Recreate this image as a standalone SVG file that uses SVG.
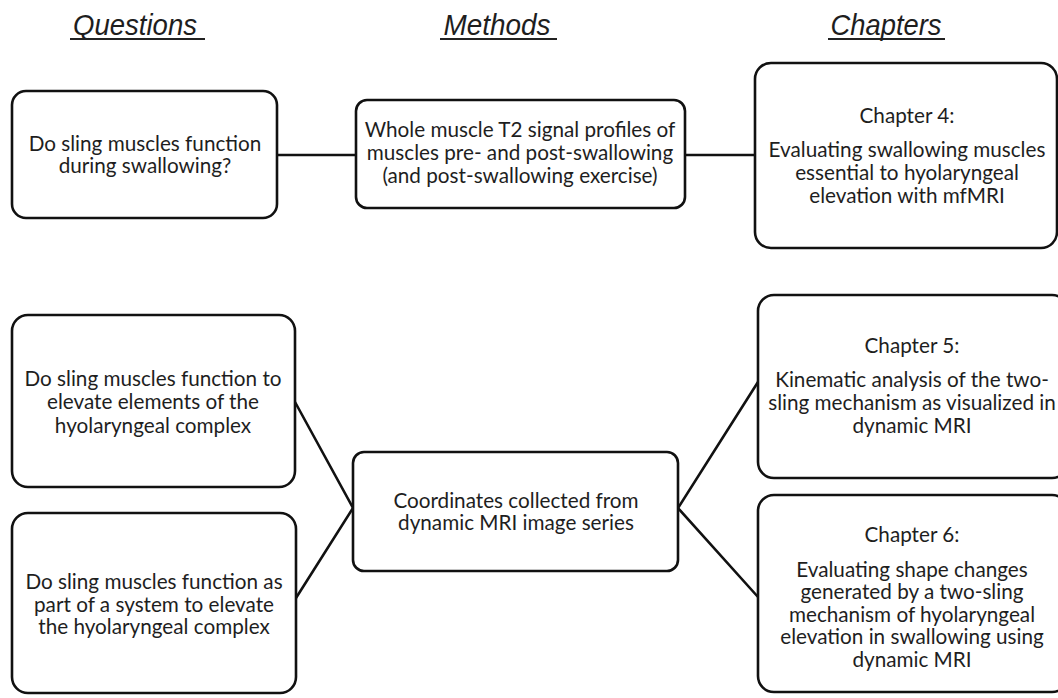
<svg xmlns="http://www.w3.org/2000/svg" width="1058" height="698" viewBox="0 0 1058 698">
<style>
.box{fill:#fff;stroke:#111;stroke-width:2.6}
.t{font-family:Lato,"Open Sans",sans-serif;font-size:20.7px;fill:#1e1e1e;text-anchor:middle}
.h{font-family:"Liberation Sans",Arial,sans-serif;font-style:italic;font-size:29px;fill:#1e1e1e;text-anchor:middle}
.ul{stroke:#222;stroke-width:2}
.c{stroke:#111;stroke-width:2.6;fill:none}
</style>
<rect width="1058" height="698" fill="#fff"/>
<g id="headers">
<text class="h" x="135" y="35" textLength="124" lengthAdjust="spacingAndGlyphs">Questions</text>
<line class="ul" x1="70" y1="39" x2="205" y2="39"/>
<text class="h" x="497" y="35" textLength="107" lengthAdjust="spacingAndGlyphs">Methods</text>
<line class="ul" x1="440" y1="39" x2="557" y2="39"/>
<text class="h" x="886" y="35" textLength="111" lengthAdjust="spacingAndGlyphs">Chapters</text>
<line class="ul" x1="828" y1="39" x2="945" y2="39"/>
</g>
<g id="connectors">
<line class="c" x1="277" y1="155" x2="356" y2="155"/>
<line class="c" x1="685" y1="155" x2="755" y2="155"/>
<polyline class="c" points="295,402 353,508 296,598"/>
<polyline class="c" points="758,382 678,508 758,597"/>
</g>
<g id="q1">
<rect class="box" x="12" y="91" width="265" height="127" rx="14"/>
<text class="t" x="145" y="151">Do sling muscles function</text>
<text class="t" x="145" y="173">during swallowing?</text>
</g>
<g id="m1">
<rect class="box" x="356" y="100" width="329" height="108" rx="11"/>
<text class="t" x="520" y="137">Whole muscle T2 signal profiles of</text>
<text class="t" x="520" y="160">muscles pre- and post-swallowing</text>
<text class="t" x="520" y="183">(and post-swallowing exercise)</text>
</g>
<g id="c4">
<rect class="box" x="755" y="63" width="302" height="185" rx="16"/>
<text class="t" x="907" y="123">Chapter 4:</text>
<text class="t" x="907" y="157">Evaluating swallowing muscles</text>
<text class="t" x="907" y="180">essential to hyolaryngeal</text>
<text class="t" x="907" y="203">elevation with mfMRI</text>
</g>
<g id="q2">
<rect class="box" x="12" y="315" width="283" height="172" rx="16"/>
<text class="t" x="153" y="386">Do sling muscles function to</text>
<text class="t" x="153" y="409">elevate elements of the</text>
<text class="t" x="153" y="433">hyolaryngeal complex</text>
</g>
<g id="q3">
<rect class="box" x="12" y="513" width="284" height="180" rx="16"/>
<text class="t" x="154" y="589">Do sling muscles function as</text>
<text class="t" x="154" y="612">part of a system to elevate</text>
<text class="t" x="154" y="634">the hyolaryngeal complex</text>
</g>
<g id="m2">
<rect class="box" x="353" y="452" width="325" height="119" rx="11"/>
<text class="t" x="516" y="508">Coordinates collected from</text>
<text class="t" x="516" y="530">dynamic MRI image series</text>
</g>
<g id="c5">
<rect class="box" x="758" y="295" width="310" height="183" rx="16"/>
<text class="t" x="912" y="353">Chapter 5:</text>
<text class="t" x="912" y="387">Kinematic analysis of the two-</text>
<text class="t" x="912" y="410">sling mechanism as visualized in</text>
<text class="t" x="912" y="433">dynamic MRI</text>
</g>
<g id="c6">
<rect class="box" x="758" y="495" width="310" height="197" rx="16"/>
<text class="t" x="912" y="542">Chapter 6:</text>
<text class="t" x="912" y="577">Evaluating shape changes</text>
<text class="t" x="912" y="599">generated by a two-sling</text>
<text class="t" x="912" y="622">mechanism of hyolaryngeal</text>
<text class="t" x="912" y="644">elevation in swallowing using</text>
<text class="t" x="912" y="667">dynamic MRI</text>
</g>
</svg>
